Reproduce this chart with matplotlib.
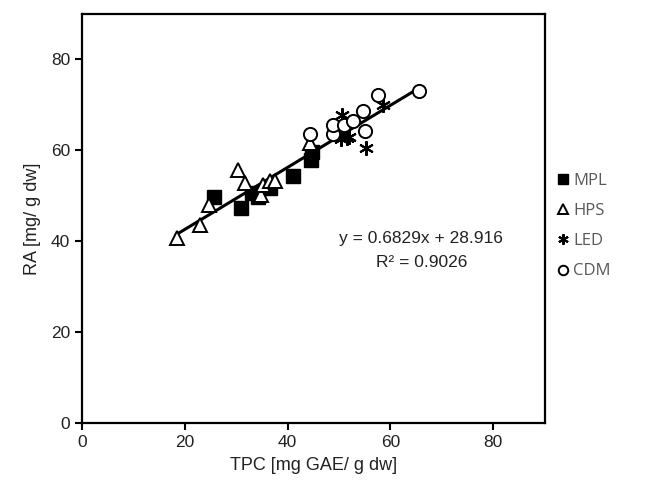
import matplotlib
matplotlib.use("Agg")
import matplotlib.pyplot as plt
import numpy as np

# TPC (x) vs RA (y) per light treatment
mpl_x = [25.6, 31.0, 33.0, 34.2, 36.5, 41.0, 44.7, 44.5]
mpl_y = [49.8, 47.3, 50.6, 49.8, 51.7, 54.3, 59.6, 57.9]

hps_x = [18.4, 22.9, 24.7, 30.4, 31.7, 34.9, 35.2, 36.5, 37.5, 44.3]
hps_y = [40.7, 43.6, 48.0, 55.7, 52.8, 50.2, 52.4, 53.2, 53.2, 61.6]

led_x = [50.5, 51.5, 50.3, 52.0, 55.3, 58.5]
led_y = [67.7, 62.7, 62.5, 63.0, 60.5, 70.0]

cdm_x = [44.3, 48.8, 48.8, 51.0, 52.7, 54.6, 55.0, 57.5, 65.5]
cdm_y = [63.5, 63.5, 65.5, 65.5, 66.4, 68.7, 64.2, 72.2, 73.0]

slope = 0.6829
intercept = 28.916
r2 = 0.9026

plt.rcParams['font.family'] = ['Liberation Sans', 'DejaVu Sans']

fig = plt.figure(figsize=(6.5, 4.97), dpi=100)
ax = fig.add_axes([0.126, 0.149, 0.712, 0.823])

all_x = mpl_x + hps_x + led_x + cdm_x
xl = np.array([min(all_x), max(all_x)])
ax.plot(xl, slope * xl + intercept, color='black', lw=2.2, zorder=1)

ms = 9.5
h1, = ax.plot(mpl_x, mpl_y, 's', color='black', ms=ms, zorder=3, ls='none')
h2, = ax.plot(hps_x, hps_y, '^', mfc='white', mec='black', mew=1.4, ms=ms+1, zorder=3, ls='none')
h3, = ax.plot(led_x, led_y, marker=(6, 2, 0), color='black', mew=1.5, ms=ms+1, zorder=3, ls='none')
h4, = ax.plot(cdm_x, cdm_y, 'o', mfc='white', mec='black', mew=1.4, ms=ms, zorder=3, ls='none')

ax.text(66, 40.5, 'y = %.4fx + %.3f' % (slope, intercept), ha='center', va='center', fontsize=12.5, color='#222222')
ax.text(66, 35.4, 'R² = %.4f' % r2, ha='center', va='center', fontsize=12.5, color='#222222')

ax.set_xlim(0, 90)
ax.set_ylim(0, 90)
ax.set_xticks([0, 20, 40, 60, 80])
ax.set_yticks([0, 20, 40, 60, 80])
for s in ax.spines.values():
    s.set_linewidth(1.6)
ax.tick_params(direction='out', length=5, width=1.5, labelsize=12.5, colors='black', labelcolor='#222222')
ax.set_xlabel('TPC [mg GAE/ g dw]', fontsize=13, color='#222222', labelpad=5)
ax.set_ylabel('RA [mg/ g dw]', fontsize=13, color='#222222', labelpad=7)

fig.legend([h1, h2, h3, h4], ['MPL', 'HPS', 'LED', 'CDM'],
           loc='center left', bbox_to_anchor=(0.836, 0.545), frameon=False,
           prop={'family': ['Open Sans'], 'size': 12}, labelcolor='#595959',
           markerscale=0.72, handlelength=0.6, handletextpad=0.3, labelspacing=0.85)

fig.savefig('out.png', dpi=100)
